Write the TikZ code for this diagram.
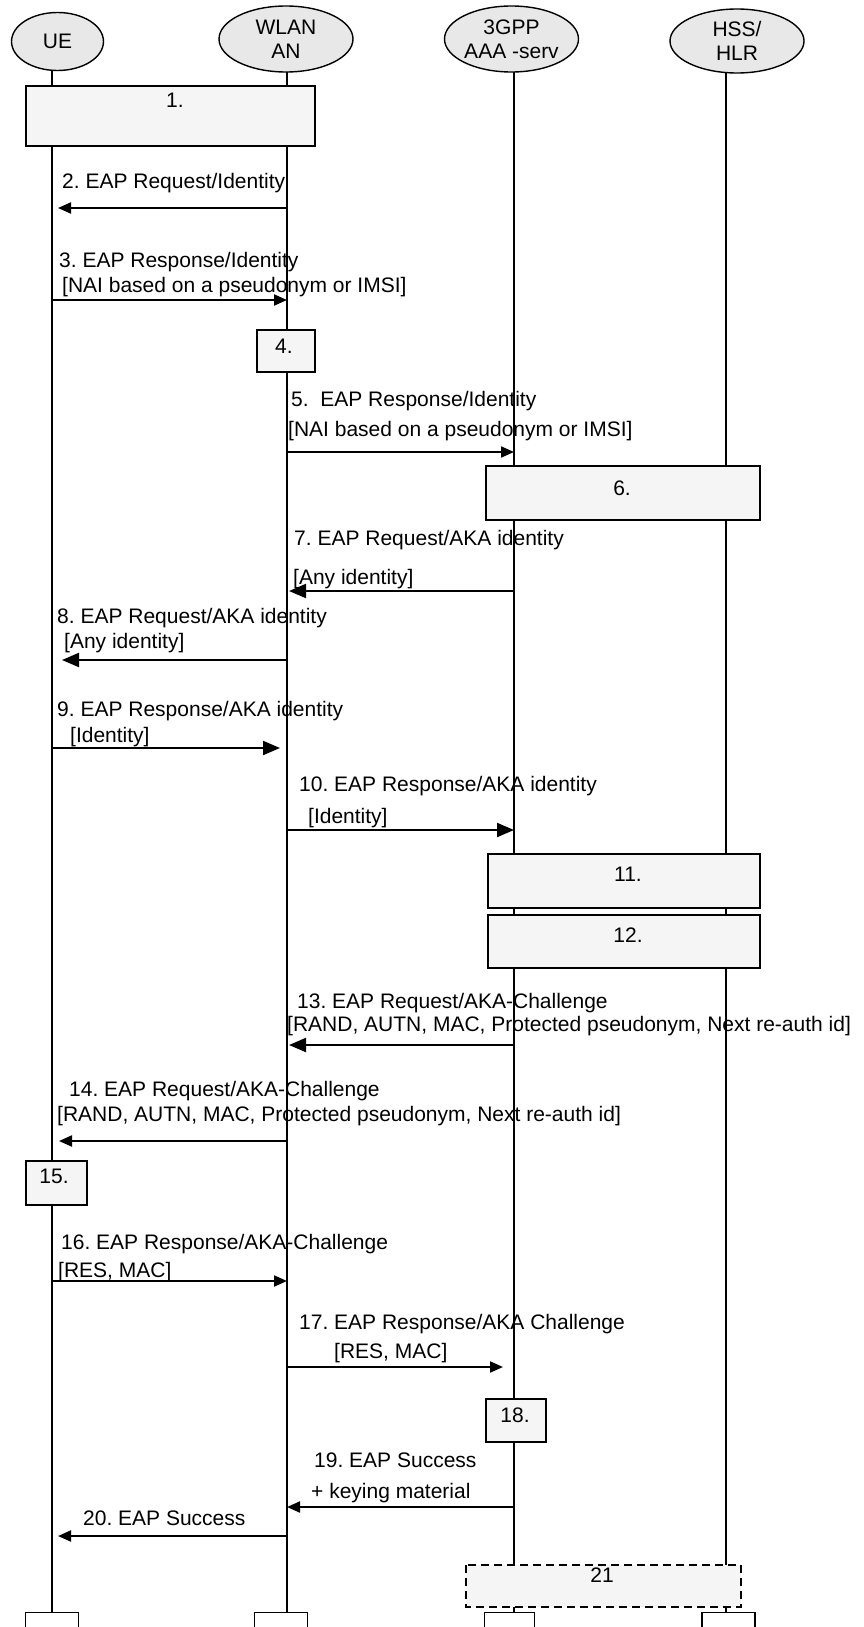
\documentclass[tikz,border=0pt]{standalone}
\usepackage{fontspec}
\setmainfont{Liberation Sans}
\usetikzlibrary{arrows.meta,shapes.geometric}
\def\lblfont{\fontsize{21}{24}\selectfont}
\frenchspacing

\begin{document}
\begin{tikzpicture}[x=1pt, y=-1pt,
		actor/.style={ellipse, draw, line width=1.4pt, fill=black!9, inner sep=0pt, align=center, font=\lblfont},
		life/.style={line width=1.6pt},
		procbox/.style={draw, line width=1.6pt, fill=black!4},
		endbox/.style={draw, line width=1.4pt, fill=white, inner sep=0pt, minimum height=18pt, anchor=north},
		lbl/.style={inner sep=0pt, anchor=base west, font=\lblfont},
		boxlbl/.style={inner sep=0pt, anchor=base, font=\lblfont},
		msg/.style={line width=2pt, -{Triangle[length=13pt, width=11pt]}},
		bigmsg/.style={line width=2pt, -{Triangle[length=17pt, width=14pt]}}]
			%%%%% START %%%%%
			\useasboundingbox (0,0) rectangle (863,1627);
			\clip (0,0) rectangle (863,1627);
			
			% actors
			\node[actor, minimum width=92pt, minimum height=58pt] (ue) at (57.5,41.5) {UE};
			\node[actor, minimum width=134pt, minimum height=66pt] (wlan) at (286,39) {WLAN\\AN};
			\node[actor, minimum width=134pt, minimum height=66pt] (aaa) at (511.5,39) {3GPP\\AAA -serv};
			\node[actor, minimum width=134pt, minimum height=64pt] (hss) at (737,41) {HSS/\\HLR};
			
			\coordinate (ueT) at (52,70);
			\coordinate (wlanT) at (287,72);
			\coordinate (aaaT) at (514,72);
			\coordinate (hssT) at (726,73);
			
			\node[endbox, minimum width=53pt] (ueB) at (52,1612) {};
			\node[endbox, minimum width=53pt] (wlanB) at (281,1612) {};
			\node[endbox, minimum width=50pt] (aaaB) at (509.5,1612) {};
			\node[endbox, minimum width=53pt] (hssB) at (728.5,1612) {};
			
			% lifelines
			\draw[life] (ueT) -- (ueT |- ueB.north);
			\draw[life] (wlanT) -- (wlanT |- wlanB.north);
			\draw[life] (aaaT) -- (aaaT |- aaaB.north);
			\draw[life] (hssT) -- (hssT |- hssB.north);
			
			% boxes
			\draw[procbox] (26,86) rectangle (315,146);
			\node[boxlbl] (t1) at (175,108) {1.};
			\draw[procbox] (257,330) rectangle (315,372);
			\node[boxlbl] (t4) at (284,353) {4.};
			\draw[procbox] (486,466) rectangle (760,520);
			\node[boxlbl] (t6) at (622,495) {6.};
			\draw[procbox] (488,854) rectangle (760,908);
			\node[boxlbl] (t11) at (628,881) {11.};
			\draw[procbox] (488,915) rectangle (760,968);
			\node[boxlbl] (t12) at (628,942) {12.};
			\draw[procbox] (26,1161) rectangle (87,1205);
			\node[boxlbl] (t15) at (54,1183) {15.};
			\draw[procbox] (486,1399) rectangle (546,1442);
			\node[boxlbl] (t18) at (515,1422) {18.};
			\draw[procbox, line width=2.4pt, dash pattern=on 8pt off 5pt] (466,1565) rectangle (741,1607);
			\node[boxlbl] (t21) at (602,1582) {21};
			
			% messages
			\node[lbl] (m2) at (62,188) {2. EAP Request/Identity};
			\draw[msg, shorten >=6pt] (wlanT |- 0,208) -- (ueT |- 0,208);
			
			\node[lbl] (m3a) at (59,267) {3. EAP Response/Identity};
			\node[lbl] (m3b) at (62,292) {[NAI based on a pseudonym or IMSI]};
			\draw[msg] (ueT |- 0,300) -- (wlanT |- 0,300);
			
			\node[lbl] (m5a) at (291,406) {5.\ \ EAP Response/Identity};
			\node[lbl] (m5b) at (288,436) {[NAI based on a pseudonym or IMSI]};
			\draw[msg] (wlanT |- 0,452) -- (aaaT |- 0,452);
			
			\node[lbl] (m7a) at (294,545) {7. EAP Request/AKA identity};
			\node[lbl] (m7b) at (293,584) {[Any identity]};
			\draw[bigmsg, shorten >=2pt] (aaaT |- 0,591) -- (wlanT |- 0,591);
			
			\node[lbl] (m8a) at (57,623) {8. EAP Request/AKA identity};
			\node[lbl] (m8b) at (64,648) {[Any identity]};
			\draw[bigmsg, shorten >=10pt] (wlanT |- 0,660) -- (ueT |- 0,660);
			
			\node[lbl] (m9a) at (57,716) {9. EAP Response/AKA identity};
			\node[lbl] (m9b) at (70,742) {[Identity]};
			\draw[bigmsg, shorten >=7pt] (ueT |- 0,748) -- (wlanT |- 0,748);
			
			\node[lbl] (m10a) at (299,791) {10. EAP Response/AKA identity};
			\node[lbl] (m10b) at (308,823) {[Identity]};
			\draw[bigmsg] (wlanT |- 0,830) -- (aaaT |- 0,830);
			
			\node[lbl] (m13a) at (297,1008) {13. EAP Request/AKA-Challenge};
			\node[lbl] (m13b) at (287,1031) {[RAND, AUTN, MAC, Protected pseudonym, Next re-auth id]};
			\draw[bigmsg, shorten >=2pt] (aaaT |- 0,1045) -- (wlanT |- 0,1045);
			
			\node[lbl] (m14a) at (69,1096) {14. EAP Request/AKA-Challenge};
			\node[lbl] (m14b) at (57,1121) {[RAND, AUTN, MAC, Protected pseudonym, Next re-auth id]};
			\draw[msg, shorten >=7pt] (wlanT |- 0,1141) -- (ueT |- 0,1141);
			
			\node[lbl] (m16a) at (61,1249) {16. EAP Response/AKA-Challenge};
			\node[lbl] (m16b) at (58,1277) {[RES, MAC]};
			\draw[msg] (ueT |- 0,1281) -- (wlanT |- 0,1281);
			
			\node[lbl] (m17a) at (299,1329) {17. EAP Response/AKA Challenge};
			\node[lbl] (m17b) at (334,1358) {[RES, MAC]};
			\draw[msg, shorten >=11pt] (wlanT |- 0,1367) -- (aaaT |- 0,1367);
			
			\node[lbl] (m19a) at (314,1467) {19. EAP Success};
			\node[lbl] (m19b) at (311,1498) {+ keying material};
			\draw[msg] (aaaT |- 0,1507) -- (wlanT |- 0,1507);
			
			\node[lbl] (m20) at (83,1525) {20. EAP Success};
			\draw[msg, shorten >=6pt] (wlanT |- 0,1536) -- (ueT |- 0,1536);
			
			%%%%% END %%%%%
\end{tikzpicture}
\end{document}
